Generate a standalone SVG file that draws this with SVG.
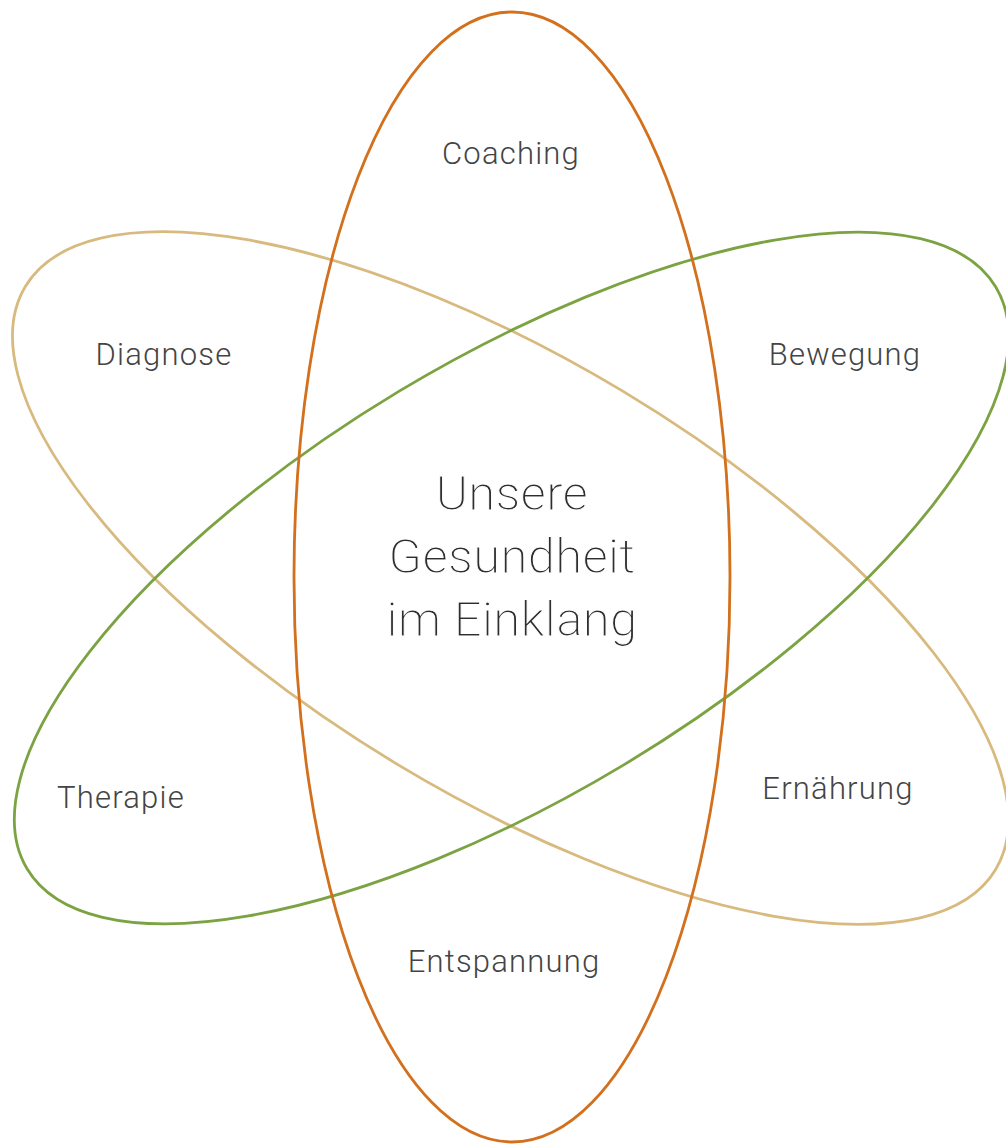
<svg xmlns="http://www.w3.org/2000/svg" width="1006" height="1144" viewBox="0 0 1006 1144">
  <style>
    .ring { fill: none; stroke-width: 2.8; }
    .tan { stroke: #D8BA7F; }
    .green { stroke: #7CA342; }
    .orange { stroke: #D3701D; }
    .label { font-family: "Roboto Light", Roboto, "Noto Sans", "Liberation Sans", sans-serif; font-weight: 300; text-anchor: middle; }
    .small { font-size: 31px; letter-spacing: 1.2px; fill: #444444; }
    /* light-weight look for the title: a thin white outline trims the glyph edges */
    .big { font-size: 49px; letter-spacing: 0.3px; fill: #2e2e2e; stroke: #ffffff; stroke-width: 1px; }
  </style>
  <rect width="1006" height="1144" fill="#ffffff"/>

  <!-- three orbits -->
  <g id="orbits">
    <ellipse id="orbit-tan" class="ring tan" cx="0" cy="0" rx="218" ry="566" transform="translate(510.5 578) rotate(-59)"/>
    <ellipse id="orbit-green" class="ring green" cx="0" cy="0" rx="218" ry="565" transform="translate(511.5 578) rotate(59)"/>
    <ellipse id="orbit-orange" class="ring orange" cx="512" cy="577" rx="218" ry="565"/>
  </g>

  <!-- centre title -->
  <g id="center">
    <text class="label big" x="512" y="510">Unsere</text>
    <text class="label big" x="512" y="573">Gesundheit</text>
    <text class="label big" x="512" y="636">im Einklang</text>
  </g>

  <!-- petal labels -->
  <g id="coaching"><text class="label small" x="511" y="164">Coaching</text></g>
  <g id="diagnose"><text class="label small" x="164" y="365">Diagnose</text></g>
  <g id="bewegung"><text class="label small" x="845" y="365">Bewegung</text></g>
  <g id="therapie"><text class="label small" x="121" y="808">Therapie</text></g>
  <g id="ernaehrung"><text class="label small" x="838" y="799">Ernährung</text></g>
  <g id="entspannung"><text class="label small" x="504" y="972">Entspannung</text></g>
</svg>
